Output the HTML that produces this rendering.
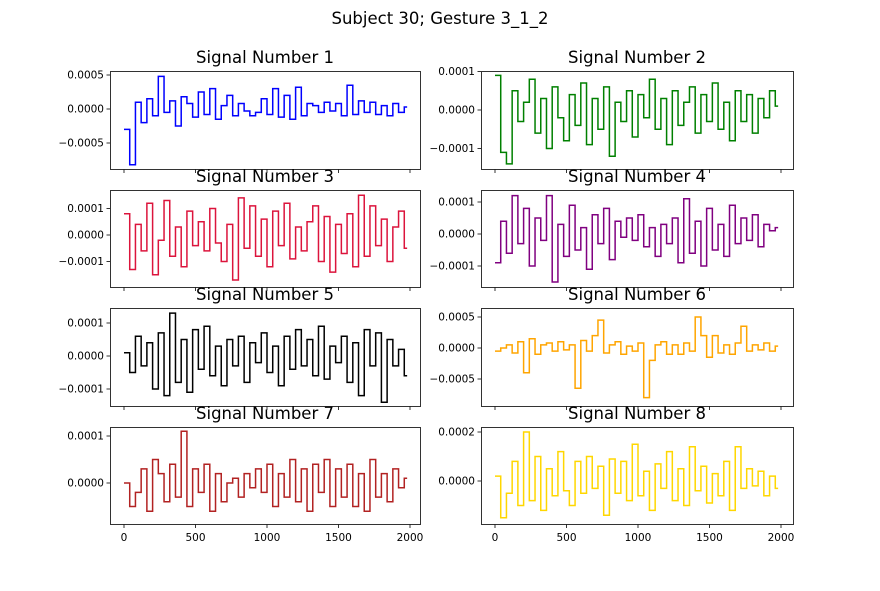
<!DOCTYPE html>
<html><head><meta charset="utf-8"><style>
html,body{margin:0;padding:0;background:#fff;}
svg{display:block;font-family:"DejaVu Sans","Liberation Sans",sans-serif;}
</style></head><body>
<svg id="fig" width="880" height="591" viewBox="0 0 880 591">
<text x="440" y="24" text-anchor="middle" font-size="16.5">Subject 30; Gesture 3_1_2</text>
</svg>
<script>
// values in units of 1e-5, sampled every 40 samples
const xStep = 40;
const s1 = [-30,-82,10,-20,15,-10,48,-5,12,-25,18,8,-12,25,-8,30,-15,5,20,-10,8,-3,-10,-5,15,-8,30,-12,20,-15,32,-10,8,5,-5,10,-3,8,-10,35,-8,12,-5,10,-8,5,-10,8,-5,3];
const s2 = [9,-11,-14,5,-3,2,8,-6,3,-10,6,-2,-8,4,-4,7,-9,3,-5,6,-12,2,-3,5,-7,4,-2,8,-5,3,-9,5,-4,2,6,-6,4,-3,7,-5,2,-8,5,-3,4,-6,3,-2,5,1];
const s3 = [8,-13,4,-6,12,-15,-2,13,-8,3,-12,9,-4,5,-6,10,-3,-10,4,-17,14,-5,11,-8,6,-12,9,-4,12,-9,3,-6,5,11,-10,7,-14,4,-7,8,-12,15,-8,11,-4,6,-10,3,9,-5];
const s4 = [-9,4,-6,12,-3,8,-10,5,-2,12,-15,3,-7,9,-5,2,-11,6,-3,8,-8,4,-1,5,-2,6,-4,2,-7,3,-3,5,-9,11,-6,4,-10,8,-5,3,-7,9,-3,5,-2,6,-4,3,1,2];
const s5 = [1,-5,6,-3,4,-10,7,-12,13,-8,5,-11,8,-4,9,-6,3,-9,5,-3,6,-8,4,-2,7,-5,3,-9,6,-4,8,-3,5,-6,9,-7,3,-2,6,-8,4,-12,8,-3,7,-14,5,-3,2,-6];
const s6 = [-5,0,5,-8,10,-40,15,-10,5,8,-5,10,-3,5,-65,12,-5,20,45,-8,5,10,-10,3,-5,8,-80,-20,5,10,-10,5,-10,8,-5,50,20,-15,20,-8,5,-10,8,35,-5,5,-3,8,-5,3];
const s7 = [0,-5,-2,3,-6,5,2,-4,4,-3,11,-5,3,-2,4,-6,2,-4,0,1,-3,2,-1,3,-2,4,-5,2,-3,5,-4,3,-6,4,-2,5,-5,3,-3,4,-5,2,-6,5,-3,2,-4,3,-1,1];
const s8 = [2,-15,-5,8,-10,20,-8,10,-12,5,-6,12,-4,-10,8,-5,10,-3,6,-14,9,-5,8,-8,15,-6,4,-12,7,-3,12,-8,5,-10,14,-4,6,-9,3,-6,8,-12,14,-3,5,-2,4,-6,2,-3];
const xTicks = [0,500,1000,1500,2000];
const titles = ["Signal Number 1","Signal Number 2","Signal Number 3","Signal Number 4","Signal Number 5","Signal Number 6","Signal Number 7","Signal Number 8"];
const yTickVals = [[50,0,-50],[10,0,-10],[10,0,-10],[10,0,-10],[10,0,-10],[50,0,-50],[10,0],[20,0]];
const yTickLabels = [["0.0005","0.0000","−0.0005"],["0.0001","0.0000","−0.0001"],["0.0001","0.0000","−0.0001"],["0.0001","0.0000","−0.0001"],["0.0001","0.0000","−0.0001"],["0.0005","0.0000","−0.0005"],["0.0001","0.0000"],["0.0002","0.0000"]];
const series = [s1,s2,s3,s4,s5,s6,s7,s8];
const colors = ["blue","green","crimson","purple","black","orange","firebrick","gold"];
const cols=[[110,420],[481,793]], rows=[[71,169],[190,287],[308,406],[427,524]];
const yMap=[[109,0.68],[110,3.85],[235,2.65],[234,3.2],[356,3.3],[348,0.62],[483,4.7],[481,2.45]];
const NS="http://www.w3.org/2000/svg", svg=document.getElementById('fig');
function mk(t,a,p){const e=document.createElementNS(NS,t);for(const k in a)e.setAttribute(k,a[k]);(p||svg).appendChild(e);return e;}
for(let i=0;i<8;i++){
  const c=cols[i%2], r=rows[Math.floor(i/2)], bottom=i>=6;
  const x0=c[0]+14;
  const sx=v=>x0+v*0.143;
  const sy=v=>yMap[i][0]-v*yMap[i][1];
  const g=mk('g',{});
  
  
  const clipId='c'+i;
  const cp=mk('clipPath',{id:clipId},g); mk('rect',{x:c[0],y:r[0],width:c[1]-c[0],height:r[1]-r[0]},cp);
  const t=mk('text',{x:(c[0]+c[1])/2,y:r[0]-8,'text-anchor':'middle','font-size':'16.5'},g);
  t.textContent=titles[i];
  
  
  const d=series[i]; let p='';
  d.forEach((v,k)=>{const X=sx(k*xStep),Y=sy(v);p+=(k?'L'+X+' '+sy(d[k-1])+' L':'M')+X+' '+Y+' ';if(k==d.length-1)p+='L'+sx(k*xStep+20)+' '+Y;});
  const line=mk('path',{d:p,fill:'none',stroke:colors[i],'stroke-width':1.5,'clip-path':'url(#'+clipId+')'},g);
  
  
  const fr=mk('rect',{x:c[0]+0.5,y:r[0]+0.5,width:c[1]-c[0],height:r[1]-r[0],fill:'none',stroke:'#000','stroke-width':0.8},g);
  
  
  yTickVals[i].forEach((v,k)=>{const Y=sy(v);mk('line',{x1:c[0]-3.5,x2:c[0],y1:Y,y2:Y,stroke:'#000','stroke-width':0.8},g);
    const tl=mk('text',{x:c[0]-6,y:Y+3.5,'text-anchor':'end','font-size':'10.5'},g);tl.textContent=yTickLabels[i][k];
    
    });
  xTicks.forEach(v=>{const X=sx(v);mk('line',{x1:X,x2:X,y1:r[1]+0.5,y2:r[1]+4,stroke:'#000','stroke-width':0.8},g);
    if(bottom){const tl=mk('text',{x:X,y:r[1]+17,'text-anchor':'middle','font-size':'10.5'},g);tl.textContent=v;
      
      }});
}
</script>
</body></html>
